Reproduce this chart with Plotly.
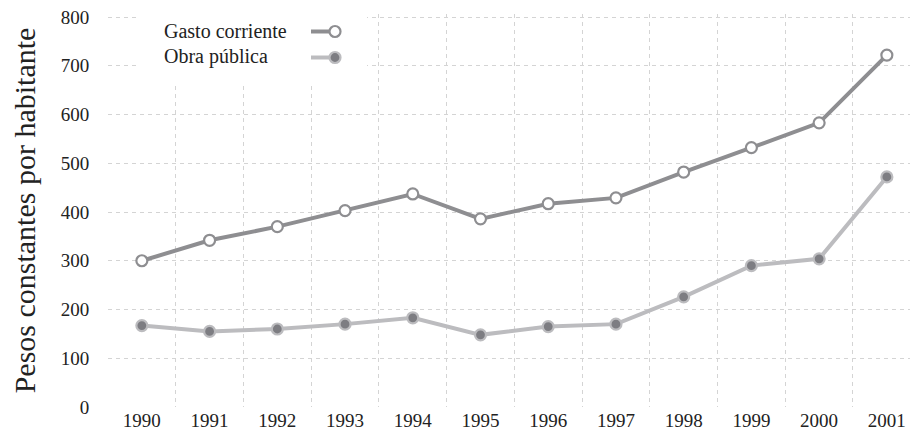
import plotly.graph_objects as go

years = ["1990", "1991", "1992", "1993", "1994", "1995", "1996", "1997", "1998", "1999", "2000", "2001"]
gasto_corriente = [300, 342, 370, 403, 437, 386, 417, 429, 482, 532, 583, 722]
obra_publica = [167, 155, 160, 170, 183, 148, 165, 170, 226, 290, 304, 472]
series_names = ["Gasto corriente", "Obra pública"]
y_ticks = [0, 100, 200, 300, 400, 500, 600, 700, 800]

# page has an 8px body margin: figure is placed at (8, 8)
OFF = 8
W, H = 918 - OFF, 433 - OFF
ML, MR, MT, MB = 100, 0, 6, 26
PW, PH = W - ML - MR, H - MT - MB

def px(x):
    # x in page pixels -> paper coordinate
    return (x - OFF - ML) / PW

def py(y):
    # y in page pixels -> paper coordinate
    return (H - MB - (y - OFF)) / PH

DARK = "#8e8e91"
LIGHT = "#bcbcbf"
DOT = "#7d7d82"
FONT = "Liberation Serif"

fig = go.Figure()
fig.add_trace(go.Scatter(
    x=years, y=gasto_corriente, name=series_names[0], mode="lines+markers",
    line=dict(color=DARK, width=4),
    marker=dict(size=11, color="white", line=dict(color=DARK, width=2.2)),
    showlegend=False, cliponaxis=False,
))
fig.add_trace(go.Scatter(
    x=years, y=obra_publica, name=series_names[1], mode="lines+markers",
    line=dict(color=LIGHT, width=4),
    marker=dict(size=11, color=DOT, line=dict(color=LIGHT, width=2.2)),
    showlegend=False, cliponaxis=False,
))

shapes = [
    dict(type="rect", xref="paper", yref="paper", layer="above",
         x0=px(137), x1=px(367), y0=py(83), y1=1.2,
         fillcolor="white", line=dict(width=0)),
]
annotations = []
legend_rows = [(series_names[0], 31.5, DARK, "white"), (series_names[1], 57.5, LIGHT, DOT)]
for name, yc, lc, fc in legend_rows:
    shapes.append(dict(type="line", xref="paper", yref="paper", layer="above",
                       x0=px(311), x1=px(334), y0=py(yc), y1=py(yc),
                       line=dict(color=lc, width=4)))
    shapes.append(dict(type="circle", xref="paper", yref="paper", layer="above",
                       x0=px(329.5), x1=px(340.5), y0=py(yc + 5.5), y1=py(yc - 5.5),
                       fillcolor=fc, line=dict(color=lc, width=2.2)))
    annotations.append(dict(text=name, xref="paper", yref="paper",
                            x=px(162), y=py(yc - 1), xanchor="left", yanchor="middle",
                            showarrow=False, font=dict(family=FONT, size=20, color="#222222")))

fig.update_layout(
    width=W, height=H,
    margin=dict(l=ML, r=MR, t=MT, b=MB),
    paper_bgcolor="white", plot_bgcolor="white",
    font=dict(family=FONT, color="#222222"),
    shapes=shapes, annotations=annotations,
    showlegend=False,
)
fig.update_xaxes(
    type="category", tickson="boundaries", range=[-0.5, 11.46],
    showgrid=True, gridcolor="#d4d4d4", griddash="4px,4px", gridwidth=1,
    ticks="outside", ticklen=13, tickcolor="rgba(0,0,0,0)",
    tickfont=dict(family=FONT, size=19, color="#222222"),
    showline=False, zeroline=False,
)
fig.update_yaxes(
    range=[0, 806.2], tickvals=y_ticks, ticklabeloverflow="allow",
    showgrid=True, gridcolor="#d4d4d4", griddash="4px,4px", gridwidth=1,
    ticks="outside", ticklen=14, tickcolor="rgba(0,0,0,0)",
    tickfont=dict(family=FONT, size=19, color="#222222"),
    showline=False, zeroline=False,
    title=dict(text="Pesos constantes por habitante", standoff=25,
               font=dict(family=FONT, size=30, color="#222222")),
)

fig.write_html("out.html")
